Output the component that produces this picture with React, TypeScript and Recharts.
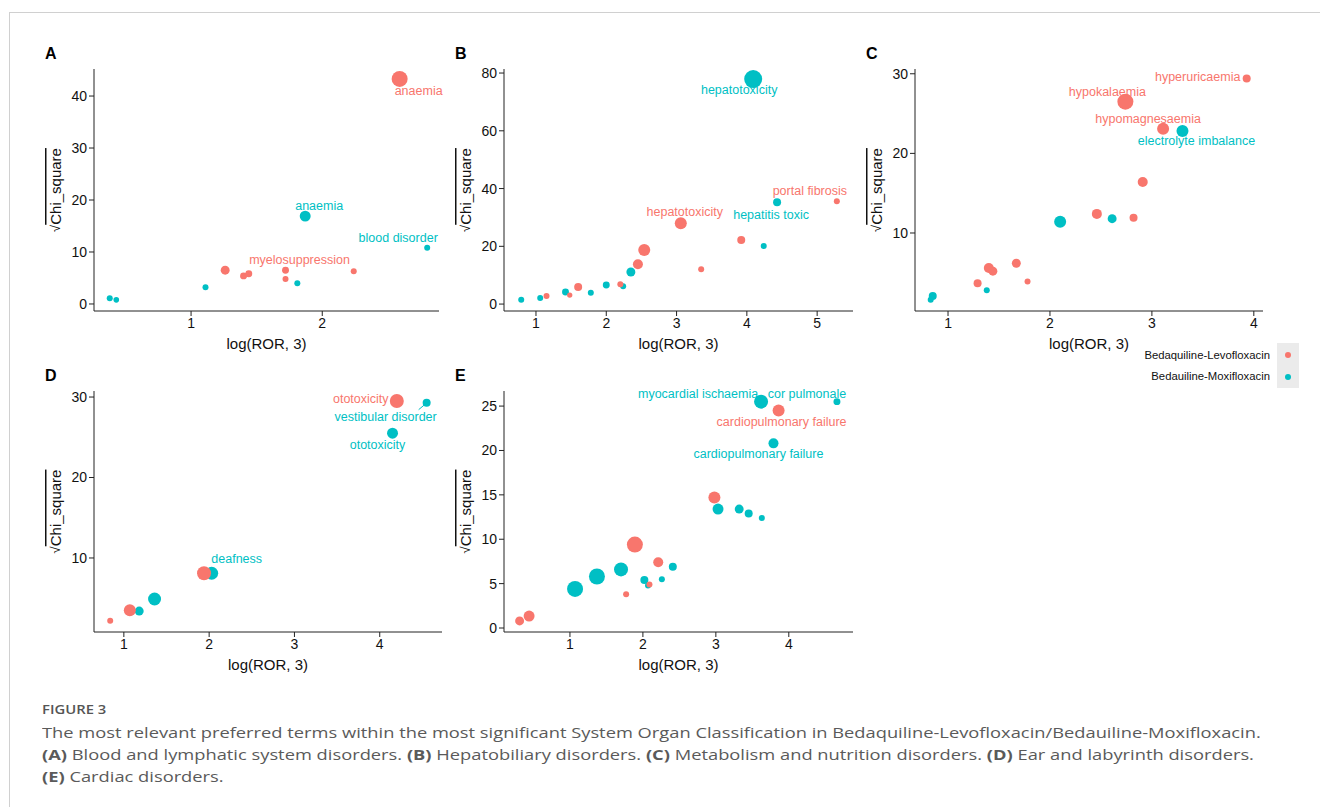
import React from 'react';
import { ScatterChart, Scatter, XAxis, YAxis } from 'recharts';

const COLORS = { levo: '#F8766D', moxi: '#00BFC4' };
const SERIES_NAMES = ['Bedaquiline-Levofloxacin', 'Bedauiline-Moxifloxacin'];

interface Pt {
  x: number;
  y: number;
  n: number;
  term?: string;
}

// A. Blood and lymphatic system disorders
const aLevo: Pt[] = [
  { x: 2.59, y: 43.3, n: 64, term: 'anaemia' },
  { x: 2.24, y: 6.3, n: 9 },
  { x: 1.72, y: 6.5, n: 12, term: 'myelosuppression' },
  { x: 1.72, y: 4.8, n: 9 },
  { x: 1.26, y: 6.5, n: 20 },
  { x: 1.4, y: 5.4, n: 12 },
  { x: 1.44, y: 5.8, n: 12 },
];
const aMoxi: Pt[] = [
  { x: 1.87, y: 16.9, n: 30, term: 'anaemia' },
  { x: 2.8, y: 10.8, n: 9, term: 'blood disorder' },
  { x: 1.81, y: 4.0, n: 9 },
  { x: 1.11, y: 3.2, n: 9 },
  { x: 0.38, y: 1.1, n: 9 },
  { x: 0.43, y: 0.8, n: 8 },
];

// B. Hepatobiliary disorders
const bLevo: Pt[] = [
  { x: 5.28, y: 35.6, n: 9, term: 'portal fibrosis' },
  { x: 3.06, y: 28.0, n: 36, term: 'hepatotoxicity' },
  { x: 3.92, y: 22.2, n: 16 },
  { x: 3.35, y: 12.1, n: 9 },
  { x: 2.54, y: 18.7, n: 36 },
  { x: 2.45, y: 13.8, n: 25 },
  { x: 2.2, y: 6.9, n: 9 },
  { x: 1.6, y: 5.9, n: 16 },
  { x: 1.48, y: 3.1, n: 7 },
  { x: 1.15, y: 2.8, n: 9 },
];
const bMoxi: Pt[] = [
  { x: 4.09, y: 77.9, n: 81, term: 'hepatotoxicity' },
  { x: 4.43, y: 35.3, n: 16, term: 'hepatitis toxic' },
  { x: 4.24, y: 20.1, n: 9 },
  { x: 2.35, y: 11.1, n: 20 },
  { x: 2.24, y: 6.2, n: 9 },
  { x: 2.0, y: 6.6, n: 12 },
  { x: 1.78, y: 3.9, n: 9 },
  { x: 1.42, y: 4.2, n: 12 },
  { x: 1.06, y: 2.1, n: 9 },
  { x: 0.79, y: 1.5, n: 9 },
];

// C. Metabolism and nutrition disorders
const cLevo: Pt[] = [
  { x: 3.93, y: 29.4, n: 16, term: 'hyperuricaemia' },
  { x: 2.74, y: 26.5, n: 64, term: 'hypokalaemia' },
  { x: 3.11, y: 23.1, n: 36, term: 'hypomagnesaemia' },
  { x: 2.91, y: 16.4, n: 25 },
  { x: 2.46, y: 12.4, n: 25 },
  { x: 2.82, y: 11.9, n: 16 },
  { x: 1.67, y: 6.2, n: 20 },
  { x: 1.4, y: 5.6, n: 25 },
  { x: 1.44, y: 5.2, n: 20 },
  { x: 1.29, y: 3.7, n: 16 },
  { x: 1.78, y: 3.9, n: 9 },
];
const cMoxi: Pt[] = [
  { x: 3.3, y: 22.8, n: 36, term: 'electrolyte imbalance' },
  { x: 2.61, y: 11.8, n: 20 },
  { x: 2.1, y: 11.4, n: 36 },
  { x: 1.38, y: 2.8, n: 9 },
  { x: 0.85, y: 2.1, n: 16 },
  { x: 0.83, y: 1.6, n: 9 },
];

// D. Ear and labyrinth disorders
const dLevo: Pt[] = [
  { x: 4.2, y: 29.5, n: 49, term: 'ototoxicity' },
  { x: 1.94, y: 8.1, n: 49 },
  { x: 1.07, y: 3.5, n: 36 },
  { x: 0.84, y: 2.2, n: 9 },
];
const dMoxi: Pt[] = [
  { x: 4.55, y: 29.3, n: 16, term: 'vestibular disorder' },
  { x: 4.15, y: 25.5, n: 30, term: 'ototoxicity' },
  { x: 2.03, y: 8.1, n: 42, term: 'deafness' },
  { x: 1.36, y: 4.9, n: 42 },
  { x: 1.18, y: 3.4, n: 20 },
];

// E. Cardiac disorders
const eLevo: Pt[] = [
  { x: 3.86, y: 24.5, n: 36, term: 'cardiopulmonary failure' },
  { x: 2.98, y: 14.7, n: 36 },
  { x: 1.89, y: 9.4, n: 64 },
  { x: 2.21, y: 7.4, n: 25 },
  { x: 2.09, y: 4.9, n: 9 },
  { x: 1.77, y: 3.8, n: 9 },
  { x: 0.44, y: 1.35, n: 30 },
  { x: 0.31, y: 0.8, n: 20 },
];
const eMoxi: Pt[] = [
  { x: 3.62, y: 25.5, n: 49, term: 'myocardial ischaemia' },
  { x: 4.66, y: 25.5, n: 12, term: 'cor pulmonale' },
  { x: 3.79, y: 20.8, n: 25, term: 'cardiopulmonary failure' },
  { x: 3.03, y: 13.4, n: 30 },
  { x: 3.32, y: 13.4, n: 20 },
  { x: 3.45, y: 12.9, n: 16 },
  { x: 3.63, y: 12.4, n: 9 },
  { x: 2.41, y: 6.9, n: 16 },
  { x: 1.7, y: 6.6, n: 49 },
  { x: 1.37, y: 5.8, n: 64 },
  { x: 1.07, y: 4.4, n: 64 },
  { x: 2.02, y: 5.4, n: 16 },
  { x: 2.07, y: 4.8, n: 9 },
  { x: 2.26, y: 5.5, n: 9 },
];

// where each repelled label sits relative to its point (px)
const LABEL_OFFSETS: Record<string, { dx: number; dy: number; lead?: boolean }> = {
  'A:levo:anaemia': { dx: 19, dy: 12 },
  'A:levo:myelosuppression': { dx: 14, dy: -10 },
  'A:moxi:anaemia': { dx: 14, dy: -10 },
  'A:moxi:blood disorder': { dx: -29, dy: -10 },
  'B:moxi:hepatotoxicity': { dx: -14, dy: 11 },
  'B:levo:portal fibrosis': { dx: -27, dy: -10 },
  'B:moxi:hepatitis toxic': { dx: -6, dy: 13 },
  'B:levo:hepatotoxicity': { dx: 4, dy: -11 },
  'C:levo:hyperuricaemia': { dx: -49, dy: -2 },
  'C:levo:hypokalaemia': { dx: -18, dy: -10 },
  'C:levo:hypomagnesaemia': { dx: -15, dy: -10 },
  'C:moxi:electrolyte imbalance': { dx: 14, dy: 10 },
  'D:levo:ototoxicity': { dx: -36, dy: -2 },
  'D:moxi:vestibular disorder': { dx: -41, dy: 14, lead: true },
  'D:moxi:ototoxicity': { dx: -15, dy: 12 },
  'D:moxi:deafness': { dx: 25, dy: -14 },
  'E:moxi:myocardial ischaemia': { dx: -63, dy: -8 },
  'E:moxi:cor pulmonale': { dx: -30, dy: -8 },
  'E:levo:cardiopulmonary failure': { dx: 3, dy: 11 },
  'E:moxi:cardiopulmonary failure': { dx: -15, dy: 11 },
};

const AXIS_FONT = '"Liberation Sans", Arial, sans-serif';
const Y_W = 64;
const X_H = 49;
const M_TOP = 10;
const M_RIGHT = 10;

const dotShape = (color: string) => (props: any) => {
  const { cx, cy, payload } = props;
  if (cx == null || cy == null) return <g />;
  return <circle cx={cx} cy={cy} r={Math.sqrt(payload.n)} fill={color} />;
};

const labelShape = (panel: string, series: 'levo' | 'moxi') => (props: any) => {
  const { cx, cy, payload } = props;
  if (!payload.term || cx == null) return <g />;
  const off = LABEL_OFFSETS[`${panel}:${series}:${payload.term}`] || { dx: 0, dy: -12 };
  const color = COLORS[series];
  return (
    <g>
      {off.lead && (
        <line x1={cx - 2} y1={cy + 2} x2={cx - 8} y2={cy + 7} stroke={color} strokeWidth={1} />
      )}
      <text
        x={cx + off.dx}
        y={cy + off.dy}
        textAnchor="middle"
        dominantBaseline="central"
        fill={color}
        fontSize={12.5}
        fontFamily={AXIS_FONT}
      >
        {payload.term}
      </text>
    </g>
  );
};

const xTitle = (props: any) => {
  const { viewBox } = props;
  return (
    <text
      x={viewBox.x + viewBox.width / 2}
      y={viewBox.y + 38}
      textAnchor="middle"
      fontSize={15}
      fontFamily={AXIS_FONT}
      fill="#111"
    >
      log(ROR, 3)
    </text>
  );
};

const yTitle = (props: any) => {
  const { viewBox } = props;
  const cx = viewBox.x + 25;
  const cy = viewBox.y + viewBox.height / 2;
  return (
    <text
      x={cx}
      y={cy}
      transform={`rotate(-90 ${cx} ${cy})`}
      textAnchor="middle"
      dominantBaseline="central"
      fontSize={15}
      fontFamily={AXIS_FONT}
      fill="#111"
    >
      <tspan fontSize={13}>√</tspan>
      <tspan style={{ textDecoration: 'overline' }}>Chi_square</tspan>
    </text>
  );
};

interface PanelProps {
  id: string;
  plot: { x0: number; x1: number; y0: number; y1: number };
  xDomain: [number, number];
  yDomain: [number, number];
  xTicks: number[];
  yTicks: number[];
  levo: Pt[];
  moxi: Pt[];
}

const Panel: React.FC<PanelProps> = ({ id, plot, xDomain, yDomain, xTicks, yTicks, levo, moxi }) => {
  const width = plot.x1 - plot.x0 + Y_W + M_RIGHT;
  const height = plot.y1 - plot.y0 + M_TOP + X_H;
  const tickStyle = { fontSize: 14, fill: '#111', fontFamily: AXIS_FONT };
  return (
    <>
      <div
        style={{
          position: 'absolute',
          left: plot.x0 - 49,
          top: plot.y0 - 24,
          fontFamily: AXIS_FONT,
          fontWeight: 'bold',
          fontSize: 16,
          color: '#000',
        }}
      >
        {id}
      </div>
      <div style={{ position: 'absolute', left: plot.x0 - Y_W, top: plot.y0 - M_TOP }}>
        <ScatterChart
          width={width}
          height={height}
          margin={{ top: M_TOP, right: M_RIGHT, left: 0, bottom: 0 }}
          style={{ overflow: 'visible' }}
        >
          <XAxis
            type="number"
            dataKey="x"
            domain={xDomain}
            ticks={xTicks}
            height={X_H}
            tickSize={5}
            tickMargin={2}
            tick={tickStyle}
            stroke="#222"
            label={{ content: xTitle }}
          />
          <YAxis
            type="number"
            dataKey="y"
            domain={yDomain}
            ticks={yTicks}
            width={Y_W}
            tickSize={5}
            tickMargin={2}
            tick={tickStyle}
            stroke="#222"
            label={{ content: yTitle }}
          />
          <Scatter name={SERIES_NAMES[1]} data={moxi} shape={dotShape(COLORS.moxi)} isAnimationActive={false} />
          <Scatter name={SERIES_NAMES[0]} data={levo} shape={dotShape(COLORS.levo)} isAnimationActive={false} />
          <Scatter data={moxi} shape={labelShape(id, 'moxi')} isAnimationActive={false} legendType="none" />
          <Scatter data={levo} shape={labelShape(id, 'levo')} isAnimationActive={false} legendType="none" />
        </ScatterChart>
      </div>
    </>
  );
};

const captionStyle: React.CSSProperties = {
  fontFamily: '"Open Sans", sans-serif',
  color: '#5a5a5a',
  fontSize: 15,
  lineHeight: '22px',
  margin: 0,
  whiteSpace: 'nowrap',
  transform: 'scaleX(1.22)',
  transformOrigin: 'left top',
};

export default function App() {
  return (
    <div
      style={{
        position: 'absolute',
        left: 0,
        top: 0,
        width: 1320,
        height: 807,
        background: '#fff',
        overflow: 'hidden',
      }}
    >
      <div style={{ position: 'absolute', left: 9, top: 12, right: 0, height: 1, background: '#d0d0d0' }} />
      <div style={{ position: 'absolute', left: 9, top: 12, bottom: 0, width: 1, background: '#d0d0d0' }} />

      <Panel
        id="A"
        plot={{ x0: 94, x1: 439, y0: 69, y1: 311 }}
        xDomain={[0.26, 2.89]}
        yDomain={[-1.35, 45.2]}
        xTicks={[1, 2]}
        yTicks={[0, 10, 20, 30, 40]}
        levo={aLevo}
        moxi={aMoxi}
      />
      <Panel
        id="B"
        plot={{ x0: 504, x1: 853, y0: 69, y1: 311 }}
        xDomain={[0.545, 5.51]}
        yDomain={[-2.4, 81.4]}
        xTicks={[1, 2, 3, 4, 5]}
        yTicks={[0, 20, 40, 60, 80]}
        levo={bLevo}
        moxi={bMoxi}
      />
      <Panel
        id="C"
        plot={{ x0: 915, x1: 1263, y0: 69, y1: 311 }}
        xDomain={[0.676, 4.09]}
        yDomain={[0.2, 30.6]}
        xTicks={[1, 2, 3, 4]}
        yTicks={[10, 20, 30]}
        levo={cLevo}
        moxi={cMoxi}
      />
      <Panel
        id="D"
        plot={{ x0: 94, x1: 442, y0: 391, y1: 632 }}
        xDomain={[0.65, 4.73]}
        yDomain={[0.8, 30.75]}
        xTicks={[1, 2, 3, 4]}
        yTicks={[10, 20, 30]}
        levo={dLevo}
        moxi={dMoxi}
      />
      <Panel
        id="E"
        plot={{ x0: 504, x1: 853, y0: 391, y1: 632 }}
        xDomain={[0.096, 4.88]}
        yDomain={[-0.45, 26.7]}
        xTicks={[1, 2, 3, 4]}
        yTicks={[0, 5, 10, 15, 20, 25]}
        levo={eLevo}
        moxi={eMoxi}
      />

      {/* legend */}
      <div style={{ position: 'absolute', left: 1100, top: 343, width: 200, height: 45, fontFamily: AXIS_FONT }}>
        <div style={{ position: 'absolute', left: 177, top: 0, width: 22, height: 45, background: '#ebebeb' }} />
        {SERIES_NAMES.map((name, i) => (
          <React.Fragment key={name}>
            <div
              style={{
                position: 'absolute',
                right: 30,
                top: 5 + i * 21,
                fontSize: 11.3,
                lineHeight: '14px',
                color: '#111',
                whiteSpace: 'nowrap',
              }}
            >
              {name}
            </div>
            <div
              style={{
                position: 'absolute',
                left: 185,
                top: 9 + i * 22,
                width: 6,
                height: 6,
                borderRadius: 3,
                background: i === 0 ? COLORS.levo : COLORS.moxi,
              }}
            />
          </React.Fragment>
        ))}
      </div>

      {/* caption */}
      <div
        style={{
          ...captionStyle,
          position: 'absolute',
          left: 42,
          top: 701,
          fontSize: 13,
          fontWeight: 600,
          lineHeight: '16px',
          color: '#555',
          transform: 'scaleX(1.14)',
        }}
      >
        FIGURE 3
      </div>
      <div style={{ position: 'absolute', left: 42, top: 721 }}>
        <div style={captionStyle}>
          The most relevant preferred terms within the most significant System Organ Classification in
          Bedaquiline-Levofloxacin/Bedauiline-Moxifloxacin.
        </div>
        <div style={captionStyle}>
          <b>(A)</b> Blood and lymphatic system disorders. <b>(B)</b> Hepatobiliary disorders. <b>(C)</b> Metabolism
          and nutrition disorders. <b>(D)</b> Ear and labyrinth disorders.
        </div>
        <div style={captionStyle}>
          <b>(E)</b> Cardiac disorders.
        </div>
      </div>
    </div>
  );
}
